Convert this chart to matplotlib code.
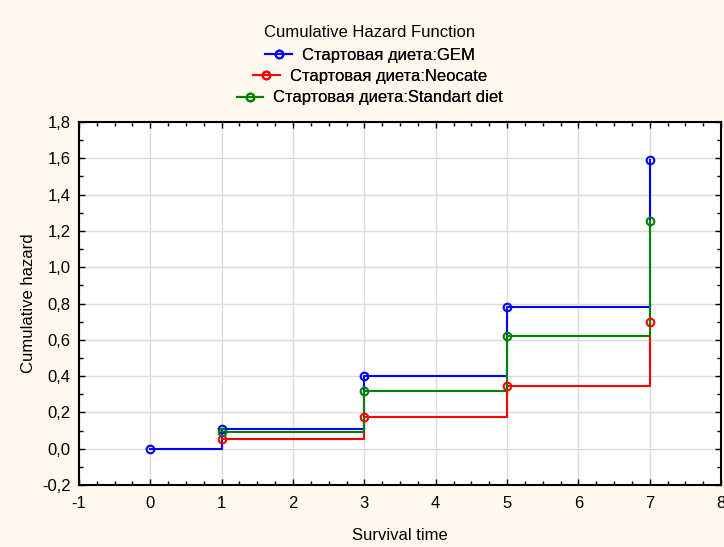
import matplotlib
matplotlib.use("Agg")
import matplotlib.pyplot as plt
from matplotlib.ticker import MultipleLocator, FuncFormatter, AutoMinorLocator

plt.rcParams['font.family'] = ['Liberation Sans', 'DejaVu Sans']

series_names = ["Стартовая диета:GEM", "Стартовая диета:Neocate", "Стартовая диета:Standart diet"]
series_colors = ["#0000FF", "#FF0000", "#008000"]
gem_t = [0, 1, 3, 5, 7]
gem_h = [0.0, 0.108, 0.401, 0.782, 1.588]
neo_t = [1, 3, 5, 7]
neo_h = [0.052, 0.177, 0.346, 0.700]
std_t = [1, 3, 5, 7]
std_h = [0.091, 0.319, 0.621, 1.253]
series = [(gem_t, gem_h), (neo_t, neo_h), (std_t, std_h)]

FS = 12
bg = "#FDF9EE"
fig = plt.figure(figsize=(7.24, 5.47), dpi=100, facecolor=bg)
ax = fig.add_axes([0.1091, 0.1133, 0.8868, 0.6637])
ax.set_facecolor("white")

handles = []
for (t, h), c, name in zip(series, series_colors, series_names):
    ax.plot(t, h, drawstyle="steps-post", color=c, lw=1.5, zorder=3)
    ax.plot(t, h, linestyle="none", marker="o", ms=5.5, mfc="none", mec=c, mew=1.5, zorder=4)
    hd, = ax.plot([], [], color=c, lw=1.5, marker="o", ms=5.5, mfc="none", mec=c, mew=1.5)
    handles.append((hd, name))

ax.set_xlim(-1, 8)
ax.set_ylim(-0.2, 1.8)
ax.xaxis.set_major_locator(MultipleLocator(1))
ax.yaxis.set_major_locator(MultipleLocator(0.2))
ax.xaxis.set_minor_locator(AutoMinorLocator(4))
ax.yaxis.set_minor_locator(AutoMinorLocator(2))
ax.yaxis.set_major_formatter(FuncFormatter(lambda v, p: f"{v:.1f}".replace(".", ",").replace("-0,0", "0,0")))
ax.xaxis.set_major_formatter(FuncFormatter(lambda v, p: f"{int(round(v))}"))
ax.tick_params(which="both", direction="in", top=True, right=True, labelsize=FS, color="black")
ax.tick_params(which="major", length=4, width=1)
ax.tick_params(which="minor", length=3, width=1)
ax.tick_params(axis="x", pad=8)
ax.tick_params(axis="y", pad=6)
ax.grid(True, which="major", color="#DCDCDC", lw=1, zorder=0)
ax.set_axisbelow(True)
for s in ax.spines.values():
    s.set_linewidth(1.5)
    s.set_color("black")

ax.set_xlabel("Survival time", fontsize=FS, labelpad=12)
ax.set_ylabel("Cumulative hazard", fontsize=FS, labelpad=4)

fig.text(0.511, 0.94, "Cumulative Hazard Function", ha="center", va="center", fontsize=FS)
ys = [0.899, 0.861, 0.821]
for (hd, name), y in zip(handles, ys):
    leg = fig.legend([hd], [name], loc="center", bbox_to_anchor=(0.511, y), frameon=False,
                     fontsize=FS, handlelength=1.6, handletextpad=0.6, borderpad=0, borderaxespad=0)
    fig.add_artist(leg)

fig.savefig("out.png", dpi=100, facecolor=bg)
